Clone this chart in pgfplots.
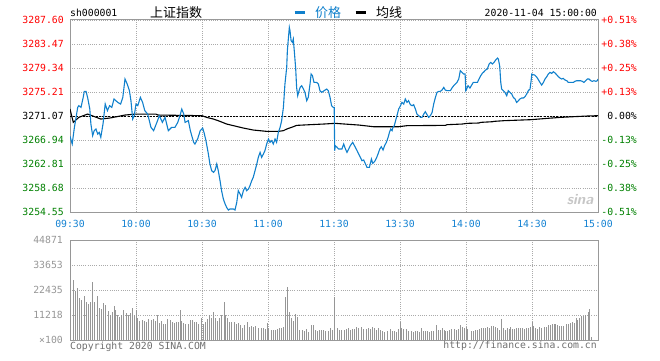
\documentclass[border=0pt]{standalone}
\usepackage{pgfplots}
\pgfplotsset{compat=1.18}
\usepackage{fontspec}
\setmonofont{DejaVu Sans Mono}
\newfontfamily\cjk{Noto Sans CJK SC}
\definecolor{pblue}{RGB}{16,128,204}
\definecolor{tblue}{RGB}{20,130,210}
\definecolor{gridc}{RGB}{170,170,170}
\definecolor{borderc}{RGB}{153,153,153}
\definecolor{volc}{RGB}{150,150,150}
\definecolor{upred}{RGB}{255,0,0}
\definecolor{dngreen}{RGB}{0,128,0}
\definecolor{labgray}{RGB}{150,150,150}
\definecolor{copyc}{RGB}{110,110,110}
\newcommand\tf{\fontsize{9.8bp}{10bp}\selectfont\ttfamily}
\begin{document}
\begin{tikzpicture}[x=1bp,y=1bp]
\useasboundingbox (0,0) rectangle (660,360);
\pgfplotsset{
 common/.style={
  scale only axis, width=528bp, xmin=0, xmax=240,
  xtick={0,30,...,240},
  major tick length=0pt,
  grid=major,
  major grid style={gridc, line width=0.8bp, dash pattern=on 1bp off 1.2bp},
  axis line style={borderc, line width=1bp},
  tick label style={font=\tf, inner sep=0pt},
  scaled ticks=false,
 }
}
\begin{axis}[common, at={(70bp,148bp)}, anchor=south west, height=192bp,
 ymin=3254.55, ymax=3287.60,
 ytick={3254.55,3258.68,3262.81,3266.94,3271.07,3275.21,3279.34,3283.47,3287.60},
 yticklabels={\textcolor{dngreen}{3254.55},\textcolor{dngreen}{3258.68},\textcolor{dngreen}{3262.81},\textcolor{dngreen}{3266.94},3271.07,\textcolor{upred}{3275.21},\textcolor{upred}{3279.34},\textcolor{upred}{3283.47},\textcolor{upred}{3287.60}},
 yticklabel style={anchor=east, xshift=-6bp},
 xticklabels={09:30,10:00,10:30,11:00,11:30,13:30,14:00,14:30,15:00},
 xticklabel style={anchor=center, yshift=-12bp, text=tblue},
 legend columns=2,
 legend image code/.code={\draw[line width=3bp] (0bp,0bp) -- (10bp,0bp);},
 legend style={at={(axis description cs:0.4223,1.039)}, anchor=west, draw=none, fill=none, inner sep=0pt,
   font={\cjk\fontsize{13bp}{14bp}\selectfont}, nodes={inner sep=0pt},
   /tikz/column sep=9bp, /tikz/every even column/.append style={column sep=13bp}},
]
\addlegendimage{pblue}
\addlegendentry{\textcolor{pblue}{价格}}
\addlegendimage{black}
\addlegendentry{均线}
\addplot[forget plot, black, line width=0.8bp, dash pattern=on 2bp off 1.2bp] coordinates {(0,3271.07)(240,3271.07)};
\addplot[forget plot, black, line width=1.1bp] coordinates {
(0,3272.27)(1.5,3269.98)(4,3270.84)(8,3271.41)(12,3270.84)(14,3270.55)(18,3270.72)(22,3271.01)(25,3271.24)(30,3271.41)(39,3271.41)(40,3271.24)(60,3271.13)(62.1,3270.84)(65.2,3270.55)(68.2,3270.15)(71.2,3269.69)(74.3,3269.41)(78.8,3269.00)(83.3,3268.66)(89.4,3268.43)(94.7,3268.43)(97,3268.55)(98.5,3268.83)(101.5,3269.23)(103,3269.46)(109.1,3269.58)(115.2,3269.69)(120.5,3269.81)(131.2,3269.52)(138,3269.23)(149.4,3269.23)(153.2,3269.41)(170.6,3269.46)(171.4,3269.58)(178.2,3269.69)(180.5,3269.81)(185.9,3269.87)(186.7,3269.98)(192,3270.09)(192.7,3270.15)(197.3,3270.27)(209.4,3270.44)(217,3270.67)(223,3270.84)(229.1,3270.96)(235.2,3271.07)(240,3271.13)
};
\addplot[forget plot, pblue, line width=1.1bp] coordinates {
(0,3267.57)(1,3266.25)(2,3269.12)(3,3271.41)(3.5,3272.56)(4,3272.85)(5,3272.56)(6,3274.28)(6.5,3275.31)(7.3,3275.31)(8,3274.28)(9,3272.27)(9.5,3269.69)(10.3,3267.69)(11,3268.55)(11.8,3268.83)(12.6,3267.97)(13.3,3268.26)(14,3267.40)(15,3269.69)(16,3273.13)(17,3271.99)(18,3272.85)(19,3272.56)(20,3274.00)(21.7,3273.42)(23,3273.13)(24,3274.28)(25,3277.44)(26,3276.58)(27,3275.43)(27.7,3273.71)(28.5,3270.55)(29.2,3271.13)(30,3273.13)(30.8,3272.85)(32,3274.28)(33,3273.42)(34,3271.99)(35.3,3271.41)(36.8,3269.12)(38,3268.55)(39.5,3269.98)(40.6,3271.13)(42,3269.98)(43.2,3270.84)(44.7,3268.55)(46.2,3269.12)(47.7,3269.12)(49,3269.98)(50.2,3271.41)(50.8,3272.27)(51.7,3271.41)(52.3,3269.98)(53.8,3270.27)(54.7,3268.55)(56.2,3266.54)(56.8,3266.25)(58,3267.11)(59.2,3268.55)(60.3,3269.00)(60.9,3268.26)(61.8,3266.83)(62.9,3264.53)(63.6,3262.81)(64.4,3261.66)(65.2,3261.38)(65.9,3261.66)(66.7,3262.81)(67.4,3261.66)(68.2,3259.94)(68.9,3258.22)(69.7,3256.79)(70.5,3255.93)(71.2,3255.35)(72,3254.89)(72.7,3255.07)(74.3,3255.07)(75,3254.89)(75.8,3256.21)(76.5,3258.22)(77.3,3257.65)(78,3257.07)(78.8,3258.22)(79.6,3258.79)(80.3,3258.22)(81.1,3258.50)(81.8,3259.08)(82.6,3259.94)(83.3,3260.52)(84.1,3261.66)(84.9,3262.81)(85.6,3263.96)(86.4,3264.82)(87.1,3263.96)(87.9,3264.53)(88.6,3265.10)(89.4,3266.25)(90.2,3267.11)(90.9,3266.54)(91.7,3266.83)(92.4,3266.25)(93.2,3267.11)(93.9,3266.54)(94.7,3268.26)(95.5,3269.12)(96.2,3270.27)(97,3272.56)(97.7,3276.58)(98.5,3279.44)(98.8,3282.31)(99.3,3284.61)(99.7,3286.33)(100,3285.75)(100.5,3284.03)(101.1,3283.75)(101.5,3284.32)(102,3282.03)(102.6,3279.16)(103,3276.00)(103.5,3274.57)(103.9,3275.14)(104.6,3276.00)(105.3,3276.29)(106.1,3275.72)(106.8,3275.14)(107.6,3273.71)(108.3,3274.28)(109.1,3276.58)(109.6,3278.30)(110.2,3278.01)(110.9,3276.86)(112.1,3276.86)(112.9,3276.58)(113.6,3275.43)(114.4,3275.14)(115.5,3275.43)(116.7,3275.72)(117.4,3275.43)(118.2,3274.28)(118.9,3272.85)(119.7,3272.56)(120.1,3272.56)(120.3,3265.10)(120.6,3265.97)(121.4,3265.68)(122.1,3265.39)(123.6,3265.39)(124.4,3266.25)(125.2,3265.39)(125.9,3264.82)(126.7,3265.39)(127.4,3265.97)(128.5,3266.54)(129.7,3265.68)(130.5,3265.10)(131.2,3264.53)(132,3263.96)(132.7,3263.38)(133.5,3263.50)(134.3,3262.81)(135,3262.24)(136.1,3262.24)(137,3263.67)(137.6,3262.93)(138.5,3263.27)(139.3,3263.84)(140,3264.53)(140.8,3265.39)(141.5,3265.79)(142.3,3265.22)(143,3265.97)(143.8,3266.54)(144.6,3267.40)(145.2,3268.26)(145.8,3268.83)(146.4,3268.55)(146.8,3269.12)(147.4,3269.41)(148.2,3270.55)(148.8,3271.41)(149.4,3272.27)(150.2,3272.85)(150.9,3273.42)(151.7,3273.13)(152.4,3274.00)(153.2,3273.42)(153.9,3273.71)(154.7,3273.02)(155.5,3272.85)(156.2,3273.02)(157,3272.27)(157.7,3271.41)(158.5,3271.13)(159.3,3270.84)(160,3270.84)(160.8,3271.41)(161.5,3271.82)(162.3,3271.30)(163,3270.84)(163.8,3271.13)(164.6,3271.70)(165.3,3273.13)(166.1,3274.28)(166.8,3275.14)(167.6,3275.31)(168.3,3275.31)(169.1,3275.54)(169.9,3276.00)(170.6,3275.54)(171.4,3275.43)(172.1,3275.43)(172.9,3275.43)(173.6,3275.89)(174.4,3276.29)(175.2,3276.58)(175.9,3276.86)(176.7,3277.44)(177.4,3278.87)(178.2,3278.58)(178.9,3278.30)(179.6,3278.30)(179.9,3275.43)(180.3,3275.72)(180.9,3276.29)(181.8,3275.89)(182.4,3276.29)(183.3,3276.86)(184.4,3276.86)(185.2,3276.86)(185.9,3277.44)(186.7,3278.01)(187.4,3278.41)(188.2,3278.70)(188.9,3278.99)(189.7,3279.16)(190.5,3280.02)(191.2,3280.30)(192,3280.02)(192.7,3280.30)(193.5,3280.71)(194.3,3281.05)(194.7,3280.88)(195.3,3279.73)(195.8,3276.86)(196.2,3275.72)(197,3275.43)(197.7,3275.14)(198.5,3274.57)(199.2,3275.43)(200,3275.14)(200.8,3274.86)(201.5,3274.28)(202.3,3274.00)(203,3273.42)(203.8,3273.71)(204.5,3274.00)(205.3,3274.17)(206.1,3274.17)(206.8,3274.40)(207.6,3274.86)(208.3,3275.43)(209.1,3275.72)(209.6,3277.15)(209.9,3278.30)(210.5,3278.18)(211.2,3278.13)(212,3277.84)(212.7,3277.44)(213.6,3276.86)(214.4,3276.40)(215.2,3276.86)(215.9,3277.44)(216.7,3277.84)(217.4,3278.30)(218.2,3278.58)(218.9,3278.41)(219.7,3278.70)(220.5,3278.47)(221.2,3278.18)(222,3277.84)(222.7,3277.61)(223.5,3277.44)(224.2,3277.55)(225,3277.27)(225.8,3277.15)(226.5,3276.86)(227.3,3276.86)(228,3276.86)(228.8,3276.86)(229.5,3277.04)(230.3,3277.15)(231.1,3277.15)(232.1,3277.15)(232.9,3277.04)(233.6,3276.86)(234.4,3277.15)(235.2,3277.44)(235.9,3277.44)(236.7,3277.15)(237.4,3277.04)(238.2,3277.15)(239,3277.04)(239.7,3277.15)(240,3277.44)
};
\end{axis}
\begin{axis}[common, at={(70bp,20bp)}, anchor=south west, height=100bp,
 ymin=0, ymax=44871,
 ytick={0,11218,22435,33653,44871},
 yticklabels={×100,11218,22435,33653,44871},
 yticklabel style={anchor=east, xshift=-7bp, text=labgray},
 xticklabels={},
]
\addplot[ycomb, volc, line width=1bp] coordinates {
(0,44871)(1.5,26928)(2.4,22141)(3.3,23338)(4.2,18850)(5.2,17952)(6.4,19598)(7.3,17054)(8.2,16157)(9.1,17054)(10,26030)(11.2,17054)(12.4,19598)(13.3,14362)(14.2,13913)(15.2,16606)(16.1,15558)(17.3,12866)(18.2,11070)(19.1,12566)(20,15110)(20.9,13464)(21.8,11070)(22.7,10173)(23.6,11370)(24.5,13464)(25.5,11968)(26.4,11070)(27.3,11968)(28.2,14362)(29.1,11070)(30,13464)(30.9,9874)(31.8,8527)(33,8976)(33.9,8527)(34.8,8228)(35.8,9425)(37,8976)(37.9,9425)(38.8,8527)(39.7,11070)(40.6,7630)(41.5,8527)(42.7,7181)(43.6,7181)(44.5,9425)(45.5,8976)(46.4,8078)(47.3,7630)(48.2,8078)(49.1,8078)(50,13464)(50.9,8527)(51.8,7630)(52.7,7181)(53.9,7181)(54.8,8976)(55.8,8976)(56.7,8078)(57.6,8078)(58.5,7181)(59.7,9874)(60.6,7181)(61.5,8078)(62.4,9425)(63.3,11070)(64.2,9874)(65.2,12566)(66.1,9874)(67,8527)(67.9,9874)(68.8,11070)(70,17054)(70.9,11070)(71.8,9874)(72.7,8078)(73.6,8078)(74.8,8078)(75.8,7181)(76.7,7630)(77.6,6732)(78.5,5386)(79.4,6732)(80.6,8078)(81.8,5834)(82.7,6283)(83.6,5834)(84.5,6283)(85.8,5386)(87,5386)(87.9,5386)(88.8,4937)(89.7,7630)(90.3,5386)(91.5,4638)(92.4,4488)(93.3,4488)(94.2,4937)(95.2,5386)(96.1,5386)(97,5834)(97.9,19149)(98.8,23637)(99.7,12566)(100.6,9874)(101.5,8527)(102.4,11519)(103.3,10173)(104.5,4488)(105.5,4488)(106.4,4039)(107.6,4937)(108.5,3590)(109.7,6882)(110.6,6582)(111.5,4488)(112.4,4039)(113.3,4488)(114.2,4488)(115.2,4488)(116.1,4039)(117.3,4039)(118.2,5386)(119.4,4488)(120.3,19149)
(121.5,5386)(122.4,4488)(123.6,4488)(124.6,4488)(125.5,4937)(126.4,5386)(127.3,4488)(128.5,4937)(129.4,4937)(130.3,5834)(131.2,5386)(132.4,5834)(133.6,4937)(134.6,4937)(135.5,5386)(136.4,4937)(137.3,5834)(138.2,5386)(139.4,4488)(140.3,5386)(141.2,4488)(142.1,4039)(143,3590)(144.3,4039)(145.5,4937)(146.4,4189)(147.3,4039)(148.2,3590)(149.4,4937)(150.2,8078)(150.9,5386)(151.8,4937)(153,4937)(153.9,4039)(155.2,4039)(156.1,3590)(157,4039)(157.9,4039)(158.8,3590)(159.7,5386)(160.6,4039)(161.5,4039)(162.4,4039)(163.3,3590)(164.3,4039)(165.2,4039)(166.4,6732)(167.3,4488)(168.2,4488)(169.1,5386)(170,4488)(170.9,4039)(171.8,4039)(172.7,4488)(173.6,4937)(174.6,4937)(175.5,4488)(176.4,4937)(177.3,6732)(178.2,5834)(179.1,5386)(180,5834)(180.9,4937)(182.4,4039)(183.3,4039)(184.3,4488)(185.2,4488)(186.1,4937)(187,5386)(187.9,5386)(188.8,5386)(189.7,5834)(190.6,5386)(191.5,6283)(192.4,6283)(193.3,5834)(194.3,5386)(195.2,4488)(196.1,9425)(197,5386)(197.9,4488)(198.8,5386)(199.7,4937)(200.3,5834)(201.2,4937)(202.1,4937)(203,5386)(204,5386)(204.9,5386)(205.8,5386)(206.7,4937)(207.6,5386)(208.5,5386)(209.4,5834)(210.3,8078)(210.9,6283)(211.8,5386)(212.7,4937)(213.6,5834)(214.5,5386)(215.5,5834)(216.4,5834)(217.3,6582)(218.2,6732)(219.1,7181)(220,7181)(220.9,7181)(221.8,6732)(222.7,6283)(223.6,6283)(224.5,6283)(225.5,7181)(226.4,7181)(227.3,7630)(228.2,8078)(229.1,7630)(230,9874)(230.9,8976)(231.8,9874)(232.7,10921)(233.6,10921)(234.5,11370)(235.5,12566)(236.1,13913)(237,1346)
};
\end{axis}
% header texts
\node[anchor=west, inner sep=0pt] at (70,347) {\tf sh000001};
\node[anchor=west, inner sep=0pt] at (150,347.5) {\cjk\fontsize{13bp}{14bp}\selectfont 上证指数};
\node[anchor=east, inner sep=0pt] at (597,347) {\tf 2020-11-04 15:00:00};
% right percentage labels
\node[anchor=east, inner sep=0pt, text=upred] at (637,340) {\tf +0.51\%};
\node[anchor=east, inner sep=0pt, text=upred] at (637,316) {\tf +0.38\%};
\node[anchor=east, inner sep=0pt, text=upred] at (637,292) {\tf +0.25\%};
\node[anchor=east, inner sep=0pt, text=upred] at (637,268) {\tf +0.13\%};
\node[anchor=east, inner sep=0pt] at (637,244) {\tf 0.00\%};
\node[anchor=east, inner sep=0pt, text=dngreen] at (637,220) {\tf -0.13\%};
\node[anchor=east, inner sep=0pt, text=dngreen] at (637,196) {\tf -0.25\%};
\node[anchor=east, inner sep=0pt, text=dngreen] at (637,172) {\tf -0.38\%};
\node[anchor=east, inner sep=0pt, text=dngreen] at (637,148) {\tf -0.51\%};
% watermark
\node[inner sep=0pt, text=gray!45] at (580,160) {\sffamily\bfseries\itshape\fontsize{15bp}{15bp}\selectfont sina};
% footer
\node[anchor=west, inner sep=0pt, text=copyc] at (70,13.5) {\tf Copyright 2020 SINA.COM};
\node[anchor=east, inner sep=0pt, text=copyc] at (597,14) {\tf http://finance.sina.com.cn};
\end{tikzpicture}
\end{document}
